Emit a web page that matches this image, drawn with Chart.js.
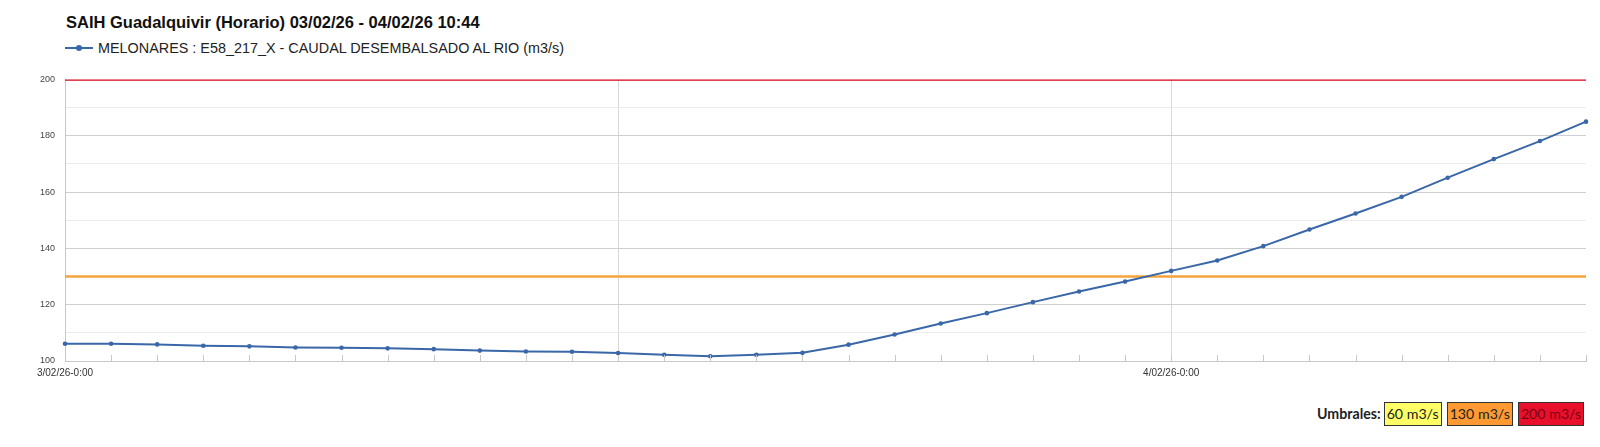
<!DOCTYPE html>
<html>
<head>
<meta charset="utf-8">
<script src="https://cdn.jsdelivr.net/npm/chart.js@4"></script>
<style>
  html, body { margin: 0; padding: 0; background: #fff; width: 1600px; height: 447px; overflow: hidden; }
  #title { position: absolute; left: 66px; top: 13px; font: bold 16.5px "Liberation Sans", Arial, sans-serif; color: #111; white-space: nowrap; }
  #legend { position: absolute; left: 65px; top: 40px; font: 14.4px "Liberation Sans", Arial, sans-serif; color: #222; white-space: nowrap; }
  #legend .sym { display: inline-block; position: relative; width: 28px; height: 10px; margin-right: 5px; vertical-align: 0px; }
  #legend .sym::before { content: ""; position: absolute; left: 0; right: 0; top: 4px; height: 2px; background: #3a67a8; }
  #legend .sym::after { content: ""; position: absolute; left: 11px; top: 2px; width: 6px; height: 6px; border-radius: 50%; background: #3a67a8; }
  #wrap { position: absolute; left: 0; top: 64px; width: 1600px; height: 326px; }
  #umbrales { position: absolute; left: 1317px; top: 402px; font: 14.2px Lato, "Open Sans", sans-serif; color: #222; white-space: nowrap; }
  #umbrales b { font-weight: 700; margin-right: 3px; }
  #umbrales span.box { display: inline-block; border: 1px solid #333; padding: 1px 2px; margin-right: 5px; line-height: 20px; }
</style>
</head>
<body>
<div id="title">SAIH Guadalquivir (Horario) 03/02/26 - 04/02/26 10:44</div>
<div id="legend"><span class="sym"></span><span id="seriesName"></span></div>
<div id="wrap"><canvas id="chart"></canvas></div>
<div id="umbrales"></div>
<script>
const SERIES_NAME = 'MELONARES : E58_217_X - CAUDAL DESEMBALSADO AL RIO (m3/s)';

const HOURS = [
  '3/02/26-0:00', '3/02/26-1:00', '3/02/26-2:00', '3/02/26-3:00', '3/02/26-4:00', '3/02/26-5:00',
  '3/02/26-6:00', '3/02/26-7:00', '3/02/26-8:00', '3/02/26-9:00', '3/02/26-10:00', '3/02/26-11:00',
  '3/02/26-12:00', '3/02/26-13:00', '3/02/26-14:00', '3/02/26-15:00', '3/02/26-16:00', '3/02/26-17:00',
  '3/02/26-18:00', '3/02/26-19:00', '3/02/26-20:00', '3/02/26-21:00', '3/02/26-22:00', '3/02/26-23:00',
  '4/02/26-0:00', '4/02/26-1:00', '4/02/26-2:00', '4/02/26-3:00', '4/02/26-4:00', '4/02/26-5:00',
  '4/02/26-6:00', '4/02/26-7:00', '4/02/26-8:00', '4/02/26-9:00',
];

const CAUDAL = [
  106.1, 106.1, 105.9, 105.4, 105.2, 104.8, 104.7, 104.5, 104.2, 103.7, 103.4, 103.3,
  102.8, 102.2, 101.7, 102.2, 102.9, 105.8, 109.4, 113.3, 117.0, 120.9, 124.7, 128.2,
  132.0, 135.7, 140.8, 146.7, 152.4, 158.3, 165.1, 171.7, 178.1, 185.0,
];

const X_TICK_LABELS = ['3/02/26-0:00', '4/02/26-0:00'];
const X_MAJOR_GRID = ['3/02/26-0:00', '3/02/26-12:00', '4/02/26-0:00'];

const UMBRALES = [60, 130, 200];
const UMBRAL_LABELS = ['60 m3/s', '130 m3/s', '200 m3/s'];
const UMBRAL_COLORS = ['#ffff66', '#ff9a33', '#e8102a'];
const UMBRAL_TEXT = ['#222', '#222', '#7a0012'];
const UMBRAL_LINE_COLORS = ['#f2e64a', '#f4a43a', '#d9001b'];

const Y_MIN = 100;
const Y_MAX = 200;

document.getElementById('seriesName').textContent = SERIES_NAME;
document.getElementById('umbrales').innerHTML = '<b>Umbrales:</b>' +
  UMBRALES.map((u, i) =>
    `<span class="box" style="background:${UMBRAL_COLORS[i]};color:${UMBRAL_TEXT[i]}">${UMBRAL_LABELS[i]}</span>`).join('');

// marcas horarias cortas sobre el eje X
const hourTicks = {
  id: 'hourTicks',
  afterDatasetsDraw(chart) {
    const { ctx, chartArea, scales } = chart;
    ctx.save();
    ctx.strokeStyle = '#c8c8c8';
    ctx.lineWidth = 1;
    HOURS.forEach((h, i) => {
      const x = Math.round(scales.x.getPixelForValue(i)) + 0.5;
      ctx.beginPath();
      ctx.moveTo(x, chartArea.bottom);
      ctx.lineTo(x, chartArea.bottom - 6);
      ctx.stroke();
    });
    ctx.restore();
  },
};

const thresholdSets = UMBRALES.map((u, i) => ({
  label: UMBRAL_LABELS[i],
  data: HOURS.map(() => u),
  borderColor: UMBRAL_LINE_COLORS[i],
  borderWidth: 2.5,
  pointRadius: 0,
  fill: false,
  order: 1,
}));

new Chart(document.getElementById('chart'), {
  type: 'line',
  data: {
    labels: HOURS,
    datasets: [
      {
        label: SERIES_NAME,
        data: CAUDAL,
        borderColor: '#3a67a8',
        backgroundColor: '#3a67a8',
        borderWidth: 2,
        pointRadius: 2.3,
        pointBorderWidth: 0,
        tension: 0,
        order: 0,
      },
      ...thresholdSets,
    ],
  },
  options: {
    responsive: true,
    maintainAspectRatio: false,
    animation: false,
    layout: { padding: { top: 4, right: 14, bottom: 9, left: 0 } },
    plugins: { legend: { display: false }, title: { display: false }, tooltip: { enabled: false } },
    scales: {
      x: {
        offset: false,
        afterFit: s => { s.height = 20; },
        border: { color: '#c8c8c8' },
        grid: {
          drawTicks: false,
          color: c => (X_MAJOR_GRID.includes(HOURS[c.index]) ? '#d8d8d8' : 'rgba(0,0,0,0)'),
        },
        ticks: {
          autoSkip: false,
          maxRotation: 0,
          padding: 6,
          color: '#333',
          font: { family: 'Liberation Sans', size: 10 },
          callback: (v, i) => (X_TICK_LABELS.includes(HOURS[i]) ? HOURS[i] : ''),
        },
      },
      y: {
        min: Y_MIN,
        max: Y_MAX,
        afterFit: s => { s.width = 65; },
        border: { color: '#c8c8c8' },
        grid: {
          drawTicks: false,
          color: c => (c.tick.value === Y_MAX ? 'rgba(0,0,0,0)' : (c.tick.value % 20 === 0 ? '#cfcfcf' : '#ececec')),
        },
        ticks: {
          stepSize: 10,
          padding: 10,
          color: '#444',
          font: { family: 'Liberation Sans', size: 9 },
          callback: v => (v % 20 === 0 ? v : ''),
        },
      },
    },
  },
  plugins: [hourTicks],
});
</script>
</body>
</html>
